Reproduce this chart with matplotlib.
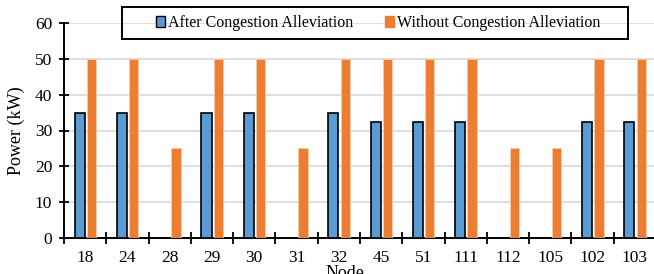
import matplotlib
matplotlib.use("Agg")
import matplotlib.pyplot as plt
import numpy as np
from matplotlib.patches import Patch, Rectangle

nodes = ["18", "24", "28", "29", "30", "31", "32", "45", "51", "111", "112", "105", "102", "103"]
after = [35, 35, 0, 35, 35, 0, 35, 32.3, 32.3, 32.3, 0, 0, 32.3, 32.3]
without = [50, 50, 25, 50, 50, 25, 50, 50, 50, 50, 25, 25, 50, 50]

plt.rcParams['font.family'] = ['Liberation Serif', 'DejaVu Serif']

fig = plt.figure(figsize=(6.54, 2.74), dpi=100)
ax = fig.add_axes([64/654, 1-238/274, (656-64)/654, (238-23)/274])

x = np.arange(len(nodes))
blue = '#5B9BD5'
orange = '#ED7D31'
ax.bar(x - 0.13, after, width=0.24, color=blue, edgecolor='black', linewidth=1.2, zorder=3)
ax.bar(x + 0.15, without, width=0.22, color=orange, edgecolor='#F8CBAD', linewidth=0.6, zorder=3)

ax.set_xlim(-0.5, len(nodes) - 0.5)
ax.set_ylim(0, 60)
ax.set_yticks(np.arange(0, 61, 10))
ax.yaxis.grid(True, color='#D9D9D9', linewidth=1.2, zorder=0)
ax.set_axisbelow(True)

ax.set_xticks(np.arange(-0.5, len(nodes), 1.0))
ax.set_xticklabels([])
ax.set_xticks(x, minor=True)
ax.set_xticklabels(nodes, minor=True)
ax.tick_params(axis='x', which='major', direction='inout', length=8, width=1.3, color='black')
ax.tick_params(axis='x', which='minor', length=0, labelsize=12.5, pad=9)
ax.tick_params(axis='y', direction='inout', length=7, width=1.3, labelsize=12.5, pad=5)

for s in ['top', 'right']:
    ax.spines[s].set_visible(False)
for s in ['left', 'bottom']:
    ax.spines[s].set_linewidth(1.4)
    ax.spines[s].set_color('black')

ax.set_ylabel('Power (kW)', fontsize=13, labelpad=7)
ax.set_xlabel('Node', fontsize=13)
ax.xaxis.set_label_coords((345-64)/(656-64), -(265-238)/(238-23), transform=ax.transAxes)
ax.xaxis.label.set_va('top')

handles = [Patch(facecolor=blue, edgecolor='black', linewidth=1.0),
           Patch(facecolor=orange, edgecolor=orange)]
leg = fig.legend(handles, ['After Congestion Alleviation', 'Without Congestion Alleviation'],
                 loc='center', bbox_to_anchor=(378/654, 1-23/274), ncol=2,
                 fontsize=11.5, frameon=False,
                 handlelength=0.55, handleheight=0.7, handletextpad=0.2,
                 columnspacing=2.0, borderpad=0.3, borderaxespad=0)
fig.patches.append(Rectangle((122/654, 1-39/274), (628-122)/654, 32/274,
                             transform=fig.transFigure, fill=False,
                             edgecolor='black', linewidth=1.4, zorder=5))

fig.savefig('out.png', dpi=100)
